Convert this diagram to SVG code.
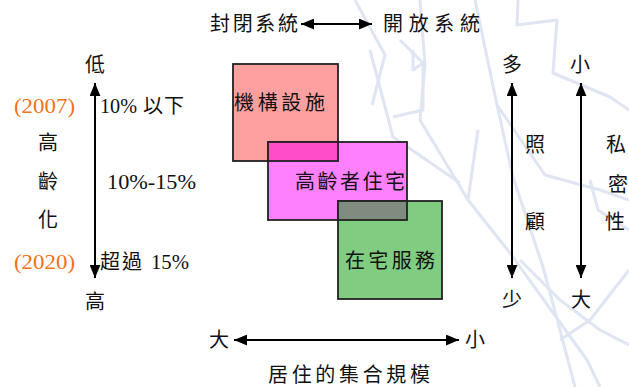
<svg xmlns="http://www.w3.org/2000/svg" width="629" height="387" viewBox="0 0 629 387">
<defs>
<style>
.cjk{font-family:"Noto Sans CJK TC","Noto Sans CJK SC",sans-serif;font-size:20px;fill:#111}
.lat{font-family:"Liberation Serif",serif;font-size:21px;fill:#111}
.org{font-family:"Liberation Serif",serif;font-size:22px;fill:#F47216}
.box{stroke:#222;stroke-width:1.8}
.ax{stroke:#000;stroke-width:2;fill:none}
.wm{stroke:#DFE5F2;stroke-width:3;fill:none;stroke-linejoin:round}
</style>
<marker id="ah" viewBox="0 0 12 10" refX="12" refY="5" markerWidth="13" markerHeight="11" markerUnits="userSpaceOnUse" orient="auto-start-reverse">
<path d="M0,0 L12,5 L0,10 z" fill="#000"/>
</marker>
</defs>
<rect width="629" height="387" fill="#fff"/>
<g id="watermark" class="wm">
<polyline points="475,0 497,105 545,175 600,190 629,200"/>
<polyline points="518,0 517,25 557,20 553,73 610,97 629,110"/>
<polyline points="420,0 425,65 420,120 468,200 510,253 587,360 600,387"/>
<polyline points="497,105 513,177 543,267 560,330 575,387"/>
<polyline points="468,200 478,130"/>
<polyline points="400,40 425,65"/>
<polyline points="590,180 598,210 629,230"/>
<polyline points="629,270 590,320 560,340"/>
<polyline points="520,260 560,300 600,330 629,345"/>
<polyline points="355,0 385,55 372,105"/>
<polyline points="370,50 393,137 460,183"/>
<polyline points="413,50 413,70 423,63 423,110 393,117"/>
</g>
<g id="connectors">
<line class="ax" x1="301" y1="24" x2="372" y2="24" marker-start="url(#ah)" marker-end="url(#ah)"/>
<line class="ax" x1="234" y1="340" x2="459" y2="340" marker-start="url(#ah)" marker-end="url(#ah)"/>
<line class="ax" x1="95" y1="83" x2="95" y2="278" marker-start="url(#ah)" marker-end="url(#ah)"/>
<line class="ax" x1="512" y1="83" x2="512" y2="278" marker-start="url(#ah)" marker-end="url(#ah)"/>
<line class="ax" x1="581" y1="83" x2="581" y2="278" marker-start="url(#ah)" marker-end="url(#ah)"/>
</g>
<g id="node-institution">
<rect class="box" x="233" y="64" width="105" height="97" fill="#FFA0A0"/>
<text class="cjk" x="234" y="110" textLength="91" lengthAdjust="spacing">機構設施</text>
</g>
<g id="node-elderly-housing">
<rect class="box" x="268" y="142" width="139" height="78" fill="#FF80FF"/>
<text class="cjk" x="295" y="189" textLength="110" lengthAdjust="spacing">高齡者住宅</text>
</g>
<g id="node-home-service">
<rect class="box" x="338" y="201" width="104" height="98" fill="#80CC80"/>
<text class="cjk" x="345" y="268" textLength="90" lengthAdjust="spacing">在宅服務</text>
</g>
<g id="overlaps">
<rect class="box" x="268" y="142" width="70" height="19" fill="#FF4DC8"/>
<rect class="box" x="338" y="201" width="69" height="19" fill="#7F8C7F"/>
</g>
<g id="labels">
<text class="cjk" x="210" y="31" textLength="88" lengthAdjust="spacing">封閉系統</text>
<text class="cjk" x="383" y="31" textLength="97" lengthAdjust="spacing">開放系統</text>
<text class="cjk" x="268" y="382" textLength="162" lengthAdjust="spacing">居住的集合規模</text>
<text class="cjk" x="219" y="347" text-anchor="middle">大</text>
<text class="cjk" x="475" y="347" text-anchor="middle">小</text>
<text class="cjk" x="95" y="72" text-anchor="middle">低</text>
<text class="cjk" x="95" y="309" text-anchor="middle">高</text>
<text class="cjk" x="48" y="150" text-anchor="middle">高</text>
<text class="cjk" x="48" y="189" text-anchor="middle">齡</text>
<text class="cjk" x="48" y="227" text-anchor="middle">化</text>
<text class="org" x="14" y="113" textLength="61" lengthAdjust="spacingAndGlyphs">(2007)</text>
<text class="org" x="14" y="269" textLength="61" lengthAdjust="spacingAndGlyphs">(2020)</text>
<text class="lat" x="100" y="113" textLength="37" lengthAdjust="spacingAndGlyphs">10%</text>
<text class="cjk" x="143" y="113">以</text>
<text class="cjk" x="164" y="113">下</text>
<text class="lat" x="107" y="189" textLength="89" lengthAdjust="spacingAndGlyphs">10%-15%</text>
<text class="cjk" x="100" y="269">超</text>
<text class="cjk" x="122" y="269">過</text>
<text class="lat" x="151" y="269" textLength="38" lengthAdjust="spacingAndGlyphs">15%</text>
<text class="cjk" x="512" y="72" text-anchor="middle">多</text>
<text class="cjk" x="512" y="307" text-anchor="middle">少</text>
<text class="cjk" x="580" y="72" text-anchor="middle">小</text>
<text class="cjk" x="581" y="307" text-anchor="middle">大</text>
<text class="cjk" x="535" y="152" text-anchor="middle">照</text>
<text class="cjk" x="535" y="229" text-anchor="middle">顧</text>
<text class="cjk" x="616" y="152" text-anchor="middle">私</text>
<text class="cjk" x="618" y="192" text-anchor="middle">密</text>
<text class="cjk" x="615" y="229" text-anchor="middle">性</text>
</g>
</svg>
